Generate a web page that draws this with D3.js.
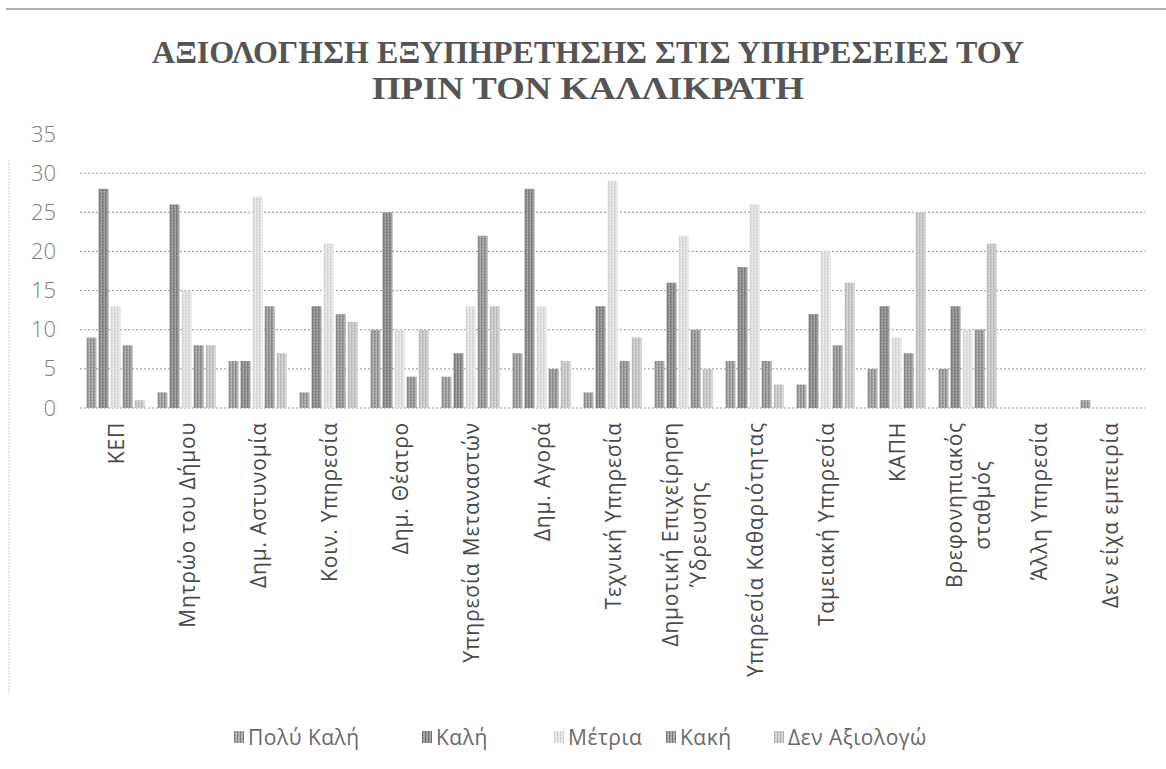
<!DOCTYPE html>
<html><head><meta charset="utf-8">
<script src="https://cdn.jsdelivr.net/npm/d3@7"></script>
<style>
html,body{margin:0;padding:0;background:#fff;}
svg{display:block;}
</style></head>
<body>
<svg id="chart" width="1166" height="769"></svg>
<script>
const titleLines = ["ΑΞΙΟΛΟΓΗΣΗ ΕΞΥΠΗΡΕΤΗΣΗΣ ΣΤΙΣ ΥΠΗΡΕΣΕΙΕΣ ΤΟΥ", "ΠΡΙΝ ΤΟΝ ΚΑΛΛΙΚΡΑΤΗ"];
const categories = ["ΚΕΠ","Μητρώο του Δήμου","Δημ. Αστυνομία","Κοιν. Υπηρεσία","Δημ. Θέατρο","Υπηρεσία Μεταναστών","Δημ. Αγορά","Τεχνική Υπηρεσία","Δημοτική Επιχείρηση Ύδρευσης","Υπηρεσία Καθαριότητας","Ταμειακή Υπηρεσία","ΚΑΠΗ","Βρεφονηπιακός σταθμός","Άλλη Υπηρεσία","Δεν είχα εμπειρία"];
const categoryLines = [["ΚΕΠ"],["Μητρώο του Δήμου"],["Δημ. Αστυνομία"],["Κοιν.  Υπηρεσία"],["Δημ. Θέατρο"],["Υπηρεσία Μεταναστών"],["Δημ. Αγορά"],["Τεχνική Υπηρεσία"],["Δημοτική Επιχείρηση","Ύδρευσης"],["Υπηρεσία Καθαριότητας"],["Ταμειακή Υπηρεσία"],["ΚΑΠΗ"],["Βρεφονηπιακός","σταθμός"],["Άλλη Υπηρεσία"],["Δεν είχα εμπειρία"]];
const seriesNames = ["Πολύ Καλή","Καλή","Μέτρια","Κακή","Δεν Αξιολογώ"];
const veryGood   = [9, 2, 6, 2,10, 4, 7, 2, 6, 6, 3, 5, 5,0,1];
const good       = [28,26, 6,13,25, 7,28,13,16,18,12,13,13,0,0];
const average    = [13,15,27,21,10,13,13,29,22,26,20, 9,10,0,0];
const bad        = [8, 8,13,12, 4,22, 5, 6,10, 6, 8, 7,10,0,0];
const noRating   = [1, 8, 7,11,10,13, 6, 9, 5, 3,16,25,21,0,0];
const yTicks = [0,5,10,15,20,25,30,35];

const seriesValues = [veryGood, good, average, bad, noRating];
const seriesStyle = [
  {base:"#b8b8b8", stripe:"#7e7e7e"},
  {base:"#a6a6a6", stripe:"#6e6e6e"},
  {base:"#ececec", stripe:"#cdcdcd"},
  {base:"#b2b2b2", stripe:"#7a7a7a"},
  {base:"#d8d8d8", stripe:"#b0b0b0"}
];

const svg = d3.select("#chart");
const plot = {left:80, right:1145, top:134, bottom:408};

// patterns
const defs = svg.append("defs");
seriesStyle.forEach((s,i)=>{
  const p = defs.append("pattern").attr("id","pat"+i).attr("patternUnits","userSpaceOnUse")
    .attr("width",3).attr("height",3);
  p.append("rect").attr("width",3).attr("height",3).attr("fill",s.base);
  p.append("rect").attr("x",0).attr("width",1).attr("height",3).attr("fill",s.stripe);
  p.append("rect").attr("x",1).attr("y",1).attr("width",1).attr("height",1).attr("fill",s.stripe).attr("opacity",0.6);
});

// frame artifacts
svg.append("line").attr("x1",6).attr("x2",1166).attr("y1",9).attr("y2",9)
  .attr("stroke","#b0b0b0").attr("stroke-width",2);
svg.append("line").attr("x1",9).attr("x2",9).attr("y1",160).attr("y2",695)
  .attr("stroke","#d0d0d0").attr("stroke-width",1).attr("stroke-dasharray","2,1");

// title
const title = svg.append("g").attr("font-family","'Liberation Serif', serif").attr("font-weight","bold")
  .attr("fill","#555").attr("text-anchor","middle");
title.selectAll("text").data(titleLines).join("text")
  .attr("x",588).attr("y",(d,i)=>63+i*36)
  .attr("font-size",32)
  .attr("textLength",(d,i)=>i===0?872:432)
  .attr("lengthAdjust","spacingAndGlyphs")
  .text(d=>d);

// scales
const x0 = d3.scaleBand().domain(categories).range([plot.left, plot.right]).paddingInner(0.12).paddingOuter(0.06);
const x1 = d3.scaleBand().domain(seriesNames).range([0, x0.bandwidth()]).padding(0.18);
const y = d3.scaleLinear().domain([0,35]).range([plot.bottom, plot.top]);

// gridlines
svg.append("g").selectAll("line").data(yTicks.filter(t=>t<35)).join("line")
  .attr("x1",plot.left).attr("x2",plot.right)
  .attr("y1",d=>y(d)).attr("y2",d=>y(d))
  .attr("stroke","#9a9a9a").attr("stroke-width",1).attr("stroke-dasharray","2,2");

// y axis labels
const yAxis = svg.append("g").attr("transform",`translate(${plot.left-24},0)`)
  .call(d3.axisLeft(y).tickValues(yTicks).tickSize(0).tickPadding(0));
yAxis.select(".domain").remove();
yAxis.selectAll("text").attr("font-family","'Open Sans', sans-serif").attr("font-size",22)
  .attr("fill","#808080").attr("font-weight",300);

// bars
const groups = svg.append("g").selectAll("g").data(categories).join("g")
  .attr("transform",d=>`translate(${x0(d)},0)`);
groups.selectAll("rect").data((d,ci)=>seriesNames.map((s,si)=>({s,si,v:seriesValues[si][ci]})))
  .join("rect")
  .attr("x",d=>x1(d.s)).attr("width",x1.bandwidth())
  .attr("y",d=>y(d.v)).attr("height",d=>y(0)-y(d.v))
  .attr("fill",d=>`url(#pat${d.si})`);

// category labels
const labG = svg.append("g").attr("font-family","'Open Sans', sans-serif").attr("font-size",21)
  .attr("fill","#4a4a4a");
categories.forEach((c,i)=>{
  const cx = x0(c) + x0.bandwidth()/2;
  const g = labG.append("g").attr("transform",`translate(${cx},${plot.bottom+14}) rotate(-90)`);
  const lines = categoryLines[i];
  const lh = 28;
  const texts = g.selectAll("text").data(lines).join("text")
    .attr("text-anchor","middle").attr("dominant-baseline","central")
    .attr("y",(d,j)=>(j-(lines.length-1)/2)*lh)
    .attr("letter-spacing",0.8)
    .text(d=>d);
  let maxW = 0;
  texts.each(function(){maxW = Math.max(maxW, this.getComputedTextLength());});
  texts.attr("x",-maxW/2);
});

// legend
const legend = svg.append("g").attr("font-family","'Open Sans', sans-serif").attr("font-size",21).attr("fill","#6a6a6a");
const legendX = [234, 422, 554, 666, 774];
seriesNames.forEach((s,i)=>{
  const g = legend.append("g").attr("transform",`translate(${legendX[i]},737)`);
  g.append("rect").attr("x",0).attr("y",-6).attr("width",10).attr("height",12).attr("fill",`url(#pat${i})`);
  g.append("text").attr("x",14).attr("y",0).attr("dominant-baseline","central").attr("letter-spacing",0.5).text(s);
});
</script>
</body></html>
